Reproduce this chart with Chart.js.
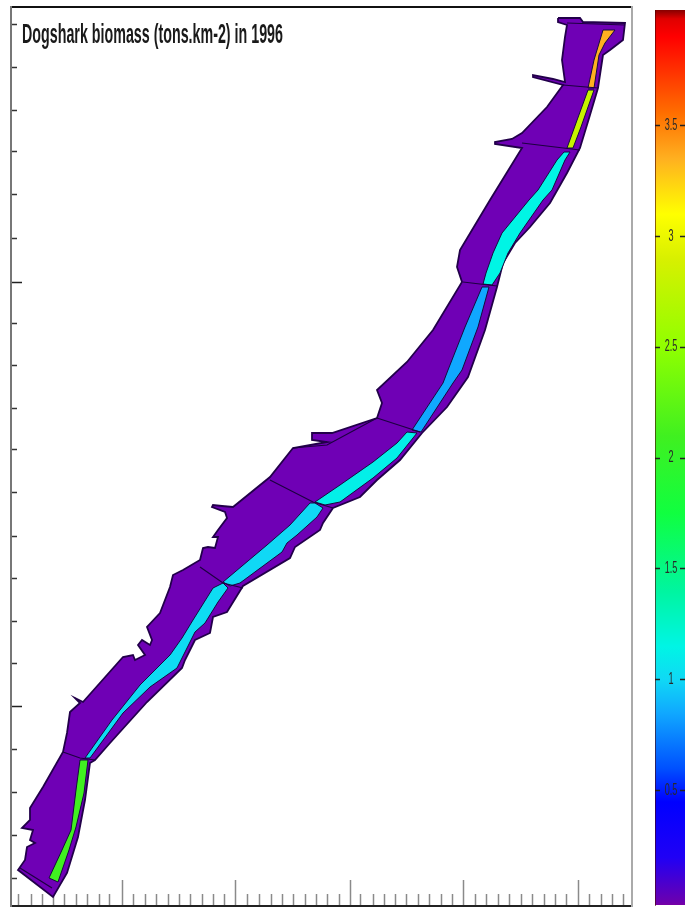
<!DOCTYPE html>
<html>
<head>
<meta charset="utf-8">
<title>Dogshark biomass</title>
<script src="https://cdn.jsdelivr.net/npm/chart.js@4"></script>
<style>
html, body { margin: 0; padding: 0; background: #fff; overflow: hidden; }
canvas { position: absolute; top: 0; filter: blur(0.7px); }
#mapChart { left: 0; }
#barChart { left: 640px; }
</style>
</head>
<body>
<canvas id="mapChart" width="685" height="909"></canvas>
<canvas id="barChart" width="45" height="909"></canvas>
<script>
const titleText = 'Dogshark biomass (tons.km-2) in 1996';

// map grid ticks
const xMinorTicks = [7,20,31,42,53,65,76,88,99,122,134,145,157,168,179,191,202,213,236,248,260,271,282,294,305,316,328,350,362,373,384,396,407,418,430,441,464,475,487,498,510,521,533,544,555,578,590,601,612];
const xMajorTicks = [111,224,339,452,567];
const yMinorTicks = [28,71,114,157,243,285,327,370,413,456,498,541,583,668,711,754,796,839,881];
const yMajorTicks = [200,624];

// colour bar
const barTicks = [0.5,1,1.5,2,2.5,3,3.5];
const barLevels = [-0.02,0,0.2,0.45,0.6,0.85,1,1.15,1.4,1.75,2.1,2.5,2.9,3.1,3.35,3.55,3.9,3.98,4.03];
const barColors = ['#7a00a0','#6a00b0','#2000f5','#0000ff','#0050ff','#10a8ff','#10d8f5','#00f5e5','#00f5a0','#10ff40','#40f020','#90ff00','#d8f000','#ffff00','#ffb020','#ff7000','#ff0000','#e00000','#700000'];

// coastline of the whole area
const outline = [[547,888],[569,888],[572,884],[614,883],[612,866],[599,856],[592,851],[587,818],[579,791],[569,758],[556,733],[539,703],[519,679],[504,663],[492,643],[486,619],[474,576],[457,529],[436,499],[411,473],[389,446],[366,426],[349,409],[322,398],[312,383],[309,376],[284,359],[279,348],[232,320],[216,294],[202,289],[199,273],[184,266],[174,246],[171,238],[136,204],[99,163],[84,146],[79,143],[74,106],[67,69],[56,33],[42,9],[7,36],[14,46],[16,59],[24,63],[19,66],[22,76],[11,78],[19,86],[19,98],[32,119],[52,154],[56,173],[59,194],[69,203],[64,208],[72,204],[112,249],[122,251],[124,246],[134,251],[127,261],[131,266],[139,261],[141,266],[136,279],[149,293],[159,319],[162,331],[172,336],[189,346],[192,358],[197,359],[204,358],[207,369],[202,369],[207,376],[216,388],[214,394],[201,399],[202,401],[211,400],[222,399],[259,429],[282,458],[316,464],[301,466],[301,473],[321,473],[366,488],[371,503],[366,516],[396,544],[422,576],[451,624],[446,639],[449,656],[479,706],[511,758],[484,762],[484,764],[501,767],[511,773],[536,799],[552,821],[522,829],[522,831],[542,827],[554,824],[551,846],[554,869],[556,881],[547,884]];

// deep channel boxes, north to south
const stripA = [[592,876],[604,876],[594,863],[588,851],[583,818],[577,818],[583,846],[589,866]];
const stripB = [[577,816],[583,816],[570,779],[562,758],[556,758],[565,783]];
const stripC = [[553,754],[559,754],[554,746],[541,716],[532,706],[509,673],[497,653],[489,633],[481,621],[472,622],[475,633],[482,653],[491,673],[518,706],[527,716],[546,746]];
const stripD = [[471,619],[478,619],[467,579],[451,536],[442,523],[410,474],[401,476],[432,523],[437,536],[454,579]];
const stripE = [[396,474],[406,473],[386,448],[362,428],[329,404],[314,401],[304,404],[329,421],[362,444],[386,463]];
const stripF = [[299,403],[304,403],[312,398],[306,389],[286,371],[276,363],[271,354],[229,323],[219,320],[212,324],[256,361],[279,381]];
const stripG = [[202,318],[212,323],[217,318],[207,304],[194,283],[184,274],[174,254],[166,238],[139,219],[112,193],[79,148],[74,148],[101,186],[129,221],[159,251],[171,268],[182,286]];
const stripH = [[69,146],[77,146],[73,113],[65,79],[58,56],[47,24],[38,28],[51,56],[60,76],[65,116]];
const strips = [stripA,stripB,stripC,stripD,stripE,stripF,stripG,stripH];
const stripValues = [3.35,2.8,1.15,0.85,1.12,1.0,1.02,2.1];

// box limits
const boxLines = [
  [[556,883],[614,881]],
  [[552,821],[587,818]],
  [[511,763],[569,756]],
  [[452,624],[486,620]],
  [[366,488],[409,474]],
  [[259,426],[302,404],[322,398]],
  [[189,339],[212,323],[232,318]],
  [[52,154],[69,148],[84,146]],
  [[9,38],[41,18]],
  [[282,458],[316,461],[366,488]]
];

function hexToRgb(h) {
  return [parseInt(h.slice(1,3),16), parseInt(h.slice(3,5),16), parseInt(h.slice(5,7),16)];
}

// colour of a value on the colour bar
function colorOf(v) {
  let i = 0;
  while (i < barLevels.length-2 && v > barLevels[i+1]) i++;
  const t = (v-barLevels[i])/(barLevels[i+1]-barLevels[i]);
  const a = hexToRgb(barColors[i]), b = hexToRgb(barColors[i+1]);
  return 'rgb('+a.map((c,k) => Math.round(c+(b[k]-c)*t)).join(',')+')';
}

function polygon(points, color, edge, width) {
  return {
    data: points.concat([points[0]]).map(p => ({x:p[0], y:p[1]})),
    showLine: true,
    fill: 'shape',
    backgroundColor: color,
    borderColor: edge,
    borderWidth: width,
    pointRadius: 0,
    tension: 0
  };
}

let datasets = [];
boxLines.forEach(l => {
  datasets.push({
    data: l.map(p => ({x:p[0], y:p[1]})),
    showLine: true,
    fill: false,
    borderColor: '#1c0040',
    borderWidth: 1.2,
    pointRadius: 0,
    tension: 0
  });
});
strips.forEach((s,i) => {
  datasets.push(polygon(s, colorOf(stripValues[i]), '#160a40', 1));
});
datasets.push(polygon(outline, '#6f00b5', '#22004a', 1.8));

function zeroWidth(s) {
  s.width = 0;
  s.paddingTop = 0;
  s.paddingBottom = 0;
}
function zeroHeight(s) { s.height = 0; }

function tickAxis(position, list, len, color, borderColor, borderWidth) {
  const horizontal = position === 'bottom' || position === 'top';
  return {
    type: 'linear',
    position: position,
    min: 0,
    max: horizontal ? 621 : 899,
    afterBuildTicks: s => { s.ticks = list.map(v => ({value:v})); },
    afterFit: horizontal ? zeroHeight : zeroWidth,
    ticks: {display:false, autoSkip:false},
    grid: {drawOnChartArea:false, tickLength:len, tickColor:color, tickWidth:1.5},
    border: borderColor ? {display:true, color:borderColor, width:borderWidth} : {display:false}
  };
}

const titlePlugin = {
  id: 'mapTitle',
  afterDraw(chart) {
    const c = chart.ctx;
    c.save();
    c.font = 'bold 20px "Liberation Sans Narrow", "Liberation Sans", sans-serif';
    c.fillStyle = '#1a1a1a';
    c.textBaseline = 'alphabetic';
    const w = c.measureText(titleText).width;
    c.translate(22, 43);
    c.scale(261/w, 1.35);
    c.fillText(titleText, 0, 0);
    c.restore();
  }
};

// the bar labels are squeezed and tall in the original
const barLabelPlugin = {
  id: 'barLabels',
  afterDraw(chart) {
    const c = chart.ctx, y = chart.scales.y;
    y.ticks.forEach(t => {
      c.save();
      c.font = '13px "Liberation Sans", sans-serif';
      c.fillStyle = '#2a2a2a';
      c.textAlign = 'center';
      c.textBaseline = 'middle';
      c.translate(31, y.getPixelForValue(t.value));
      c.scale(0.7, 1.2);
      c.fillText(t.label, 0, 0);
      c.restore();
    });
  }
};

new Chart(document.getElementById('mapChart'), {
  type: 'scatter',
  data: {datasets: datasets},
  plugins: [titlePlugin],
  options: {
    responsive: false,
    animation: false,
    layout: {padding: {left:11, right:53, top:7, bottom:3}},
    plugins: {legend:{display:false}, tooltip:{enabled:false}},
    scales: {
      x: tickAxis('bottom', xMinorTicks, -12, '#8a8a8a', '#222', 2),
      xMajor: tickAxis('bottom', xMajorTicks, -26, '#8a8a8a'),
      xTop: tickAxis('top', [], 0, '#000', '#111', 2),
      y: tickAxis('left', yMinorTicks, -6, '#333', '#777', 2),
      yMajor: tickAxis('left', yMajorTicks, -11, '#222'),
      yRight: tickAxis('right', [], 0, '#000', '#aaa', 2)
    }
  }
});

new Chart(document.getElementById('barChart'), {
  type: 'bar',
  data: {
    labels: [''],
    datasets: [{
      data: [[-0.015, 4.02]],
      barPercentage: 1,
      categoryPercentage: 1,
      backgroundColor(ctx) {
        const chart = ctx.chart;
        if (!chart.chartArea) return '#000';
        const y = chart.scales.y;
        const g = chart.ctx.createLinearGradient(0, y.getPixelForValue(-0.02), 0, y.getPixelForValue(4.03));
        barLevels.forEach((v,i) => g.addColorStop((v+0.02)/4.05, barColors[i]));
        return g;
      }
    }]
  },
  plugins: [barLabelPlugin],
  options: {
    responsive: false,
    animation: false,
    layout: {padding: {left:15, right:0, top:10, bottom:4}},
    plugins: {legend:{display:false}, tooltip:{enabled:false}},
    scales: {
      x: {display:false},
      y: {
        min: -0.015,
        max: 4.02,
        afterBuildTicks: s => { s.ticks = barTicks.map(v => ({value:v})); },
        afterFit: zeroWidth,
        ticks: {display:false, autoSkip:false, callback: v => String(v)},
        grid: {z:1, drawOnChartArea:false, tickLength:-5, tickColor:'#222', tickWidth:1.5},
        border: {z:1, display:true, color:'rgba(70,0,0,0.6)', width:1}
      },
      yRight: {
        position: 'right',
        min: -0.015,
        max: 4.02,
        afterBuildTicks: s => { s.ticks = barTicks.map(v => ({value:v})); },
        afterFit: zeroWidth,
        ticks: {display:false, autoSkip:false},
        grid: {z:1, drawOnChartArea:false, tickLength:-5, tickColor:'#222', tickWidth:1.5},
        border: {display:false}
      }
    }
  }
});
</script>
</body>
</html>
